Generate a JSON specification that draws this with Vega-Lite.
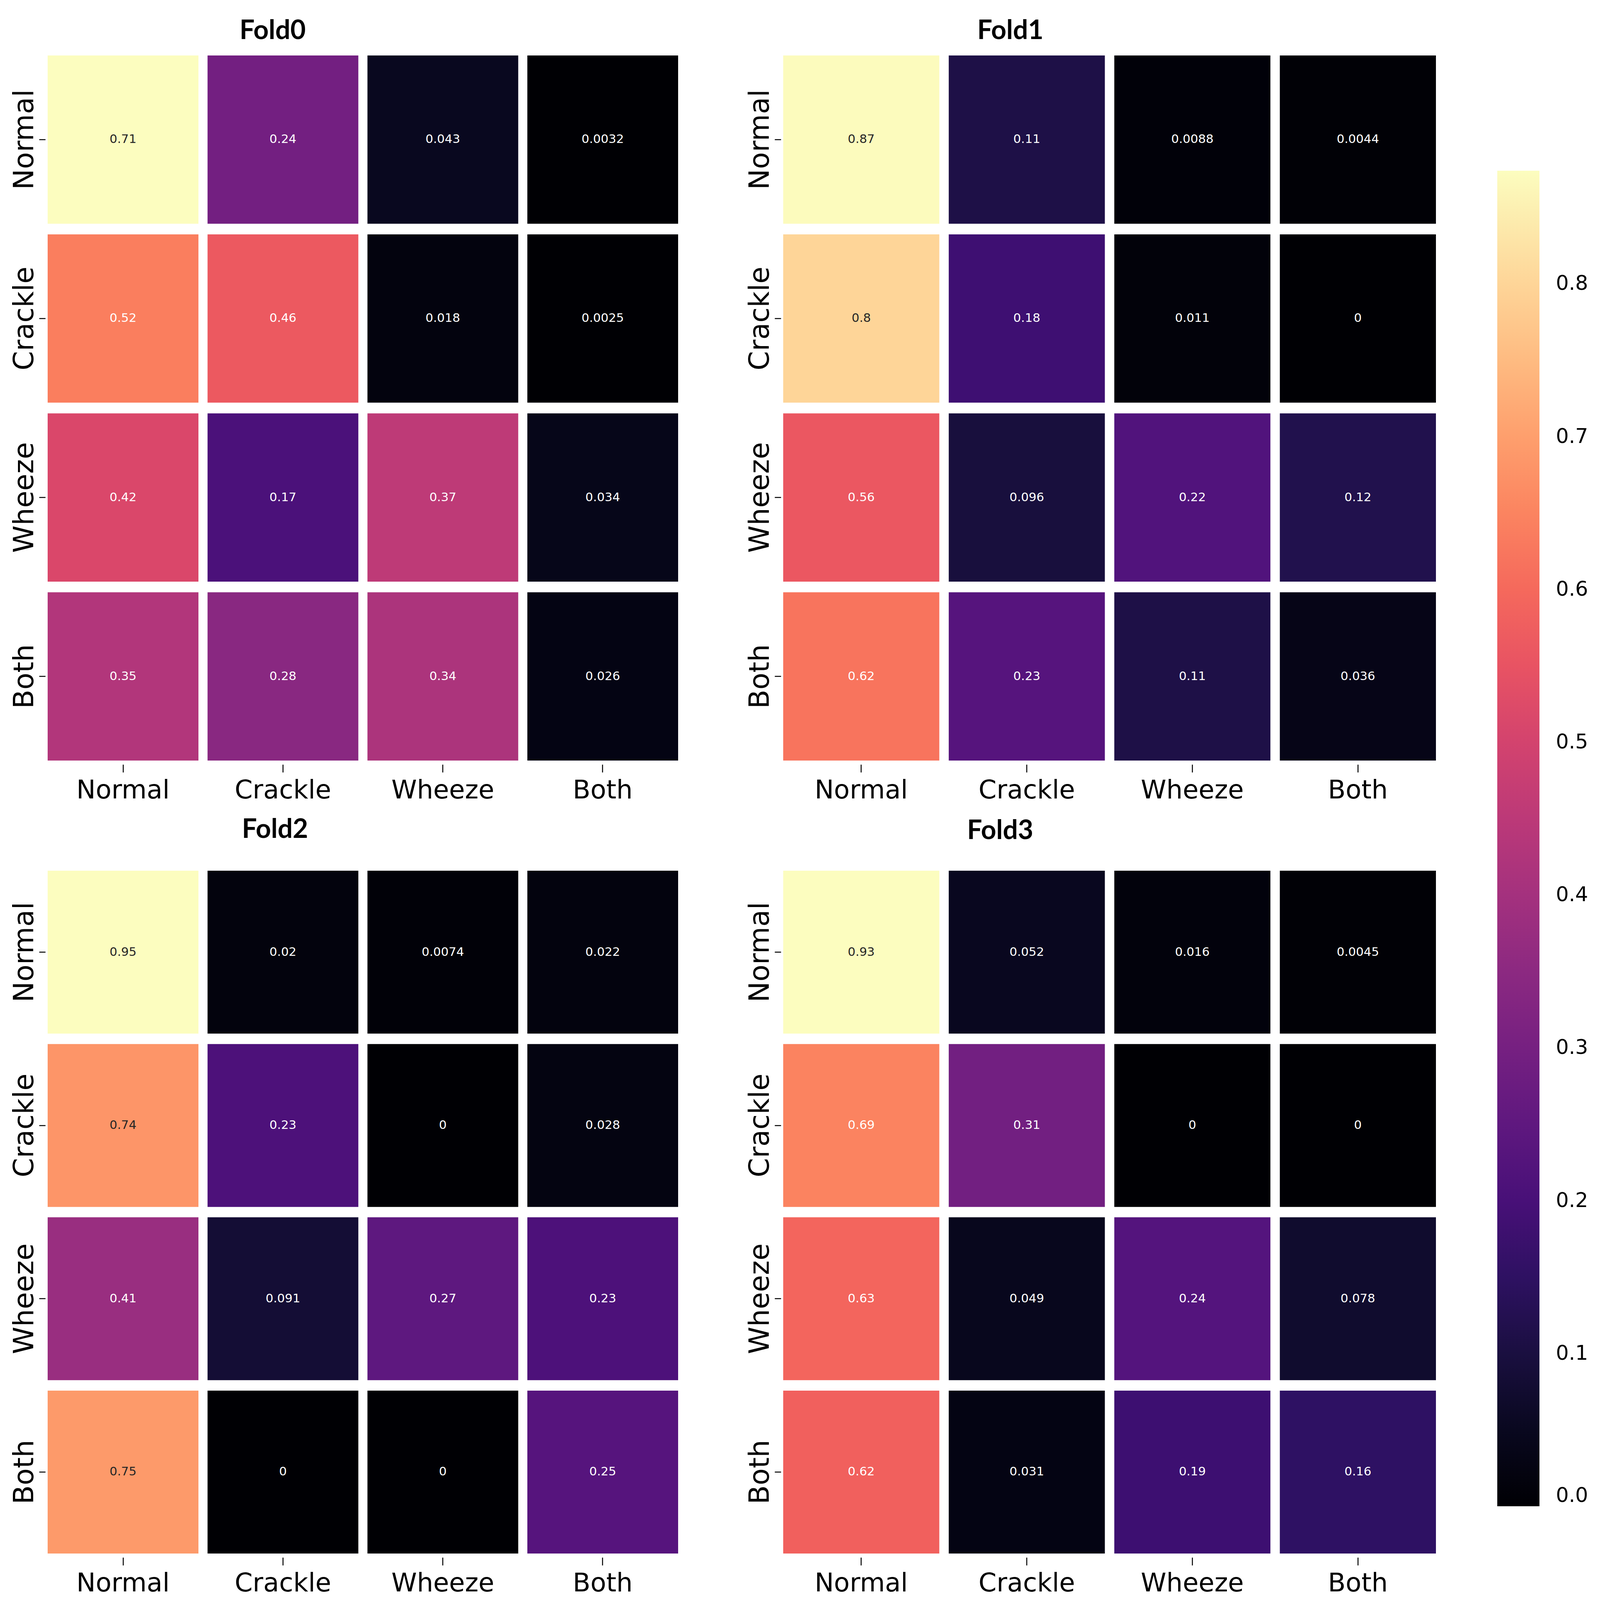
{
 "$schema": "https://vega.github.io/schema/vega-lite/v6.json",
 "background": "white",
 "padding": {"left": 26, "top": 46, "right": 5, "bottom": 5},
 "bounds": "flush",
 "columns": 2,
 "spacing": {"row": 282, "column": 269},
 "data": {"values": [
  {"fold": "Fold0", "actual": "Normal", "predicted": "Normal", "v": 0.71},
  {"fold": "Fold0", "actual": "Normal", "predicted": "Crackle", "v": 0.24},
  {"fold": "Fold0", "actual": "Normal", "predicted": "Wheeze", "v": 0.043},
  {"fold": "Fold0", "actual": "Normal", "predicted": "Both", "v": 0.0032},
  {"fold": "Fold0", "actual": "Crackle", "predicted": "Normal", "v": 0.52},
  {"fold": "Fold0", "actual": "Crackle", "predicted": "Crackle", "v": 0.46},
  {"fold": "Fold0", "actual": "Crackle", "predicted": "Wheeze", "v": 0.018},
  {"fold": "Fold0", "actual": "Crackle", "predicted": "Both", "v": 0.0025},
  {"fold": "Fold0", "actual": "Wheeze", "predicted": "Normal", "v": 0.42},
  {"fold": "Fold0", "actual": "Wheeze", "predicted": "Crackle", "v": 0.17},
  {"fold": "Fold0", "actual": "Wheeze", "predicted": "Wheeze", "v": 0.37},
  {"fold": "Fold0", "actual": "Wheeze", "predicted": "Both", "v": 0.034},
  {"fold": "Fold0", "actual": "Both", "predicted": "Normal", "v": 0.35},
  {"fold": "Fold0", "actual": "Both", "predicted": "Crackle", "v": 0.28},
  {"fold": "Fold0", "actual": "Both", "predicted": "Wheeze", "v": 0.34},
  {"fold": "Fold0", "actual": "Both", "predicted": "Both", "v": 0.026},
  {"fold": "Fold1", "actual": "Normal", "predicted": "Normal", "v": 0.87},
  {"fold": "Fold1", "actual": "Normal", "predicted": "Crackle", "v": 0.11},
  {"fold": "Fold1", "actual": "Normal", "predicted": "Wheeze", "v": 0.0088},
  {"fold": "Fold1", "actual": "Normal", "predicted": "Both", "v": 0.0044},
  {"fold": "Fold1", "actual": "Crackle", "predicted": "Normal", "v": 0.8},
  {"fold": "Fold1", "actual": "Crackle", "predicted": "Crackle", "v": 0.18},
  {"fold": "Fold1", "actual": "Crackle", "predicted": "Wheeze", "v": 0.011},
  {"fold": "Fold1", "actual": "Crackle", "predicted": "Both", "v": 0},
  {"fold": "Fold1", "actual": "Wheeze", "predicted": "Normal", "v": 0.56},
  {"fold": "Fold1", "actual": "Wheeze", "predicted": "Crackle", "v": 0.096},
  {"fold": "Fold1", "actual": "Wheeze", "predicted": "Wheeze", "v": 0.22},
  {"fold": "Fold1", "actual": "Wheeze", "predicted": "Both", "v": 0.12},
  {"fold": "Fold1", "actual": "Both", "predicted": "Normal", "v": 0.62},
  {"fold": "Fold1", "actual": "Both", "predicted": "Crackle", "v": 0.23},
  {"fold": "Fold1", "actual": "Both", "predicted": "Wheeze", "v": 0.11},
  {"fold": "Fold1", "actual": "Both", "predicted": "Both", "v": 0.036},
  {"fold": "Fold2", "actual": "Normal", "predicted": "Normal", "v": 0.95},
  {"fold": "Fold2", "actual": "Normal", "predicted": "Crackle", "v": 0.02},
  {"fold": "Fold2", "actual": "Normal", "predicted": "Wheeze", "v": 0.0074},
  {"fold": "Fold2", "actual": "Normal", "predicted": "Both", "v": 0.022},
  {"fold": "Fold2", "actual": "Crackle", "predicted": "Normal", "v": 0.74},
  {"fold": "Fold2", "actual": "Crackle", "predicted": "Crackle", "v": 0.23},
  {"fold": "Fold2", "actual": "Crackle", "predicted": "Wheeze", "v": 0},
  {"fold": "Fold2", "actual": "Crackle", "predicted": "Both", "v": 0.028},
  {"fold": "Fold2", "actual": "Wheeze", "predicted": "Normal", "v": 0.41},
  {"fold": "Fold2", "actual": "Wheeze", "predicted": "Crackle", "v": 0.091},
  {"fold": "Fold2", "actual": "Wheeze", "predicted": "Wheeze", "v": 0.27},
  {"fold": "Fold2", "actual": "Wheeze", "predicted": "Both", "v": 0.23},
  {"fold": "Fold2", "actual": "Both", "predicted": "Normal", "v": 0.75},
  {"fold": "Fold2", "actual": "Both", "predicted": "Crackle", "v": 0},
  {"fold": "Fold2", "actual": "Both", "predicted": "Wheeze", "v": 0},
  {"fold": "Fold2", "actual": "Both", "predicted": "Both", "v": 0.25},
  {"fold": "Fold3", "actual": "Normal", "predicted": "Normal", "v": 0.93},
  {"fold": "Fold3", "actual": "Normal", "predicted": "Crackle", "v": 0.052},
  {"fold": "Fold3", "actual": "Normal", "predicted": "Wheeze", "v": 0.016},
  {"fold": "Fold3", "actual": "Normal", "predicted": "Both", "v": 0.0045},
  {"fold": "Fold3", "actual": "Crackle", "predicted": "Normal", "v": 0.69},
  {"fold": "Fold3", "actual": "Crackle", "predicted": "Crackle", "v": 0.31},
  {"fold": "Fold3", "actual": "Crackle", "predicted": "Wheeze", "v": 0},
  {"fold": "Fold3", "actual": "Crackle", "predicted": "Both", "v": 0},
  {"fold": "Fold3", "actual": "Wheeze", "predicted": "Normal", "v": 0.63},
  {"fold": "Fold3", "actual": "Wheeze", "predicted": "Crackle", "v": 0.049},
  {"fold": "Fold3", "actual": "Wheeze", "predicted": "Wheeze", "v": 0.24},
  {"fold": "Fold3", "actual": "Wheeze", "predicted": "Both", "v": 0.078},
  {"fold": "Fold3", "actual": "Both", "predicted": "Normal", "v": 0.62},
  {"fold": "Fold3", "actual": "Both", "predicted": "Crackle", "v": 0.031},
  {"fold": "Fold3", "actual": "Both", "predicted": "Wheeze", "v": 0.19},
  {"fold": "Fold3", "actual": "Both", "predicted": "Both", "v": 0.16}
 ]},
 "config": {
  "view": {"stroke": null},
  "axis": {"domain": false, "grid": false, "ticks": true, "tickColor": "#000000", "tickWidth": 2.5, "labelFont": "DejaVu Sans", "labelFontSize": 66, "labelColor": "#000000", "labelLimit": 0, "title": null},
  "axisX": {"labelAngle": 0, "tickSize": 20, "offset": 10, "labelPadding": 14},
  "axisY": {"labelAngle": 270, "labelFontSize": 71, "tickSize": 16, "offset": 6, "labelPadding": 16, "labelAlign": "center", "labelBaseline": "alphabetic"},
  "title": {"font": "Lato", "fontWeight": "bold", "fontSize": 68, "color": "#000000", "anchor": "middle"}
 },
 "concat": [
  {
   "width": 1614, "height": 1805,
   "title": {"text": "Fold0", "dx": -231, "offset": 28},
   "transform": [{"filter": "datum.fold === 'Fold0'"}],
   "encoding": {
    "x": {"field": "predicted", "type": "nominal", "sort": ["Normal", "Crackle", "Wheeze", "Both"], "scale": {"paddingInner": 0.057, "paddingOuter": 0}},
    "y": {"field": "actual", "type": "nominal", "sort": ["Normal", "Crackle", "Wheeze", "Both"], "scale": {"paddingInner": 0.06, "paddingOuter": 0}}
   },
   "layer": [
    {"mark": {"type": "rect"}, "encoding": {"color": {"field": "v", "type": "quantitative", "scale": {"scheme": "magma", "domain": [0.0025, 0.71]}, "legend": null}}},
    {"mark": {"type": "text", "font": "DejaVu Sans", "fontSize": 31}, "encoding": {"text": {"field": "v", "type": "quantitative", "format": "~g"}, "color": {"condition": {"test": "datum.v > 0.6", "value": "#262626"}, "value": "#ffffff"}}}
   ]
  },
  {
   "width": 1671, "height": 1805,
   "title": {"text": "Fold1", "dx": -254, "offset": 28},
   "transform": [{"filter": "datum.fold === 'Fold1'"}],
   "encoding": {
    "x": {"field": "predicted", "type": "nominal", "sort": ["Normal", "Crackle", "Wheeze", "Both"], "scale": {"paddingInner": 0.057, "paddingOuter": 0}},
    "y": {"field": "actual", "type": "nominal", "sort": ["Normal", "Crackle", "Wheeze", "Both"], "scale": {"paddingInner": 0.06, "paddingOuter": 0}}
   },
   "layer": [
    {"mark": {"type": "rect"}, "encoding": {"color": {"field": "v", "type": "quantitative", "scale": {"scheme": "magma", "domain": [0, 0.874]}, "legend": {"orient": "none", "legendX": 1828, "legendY": 295, "title": null, "direction": "vertical", "gradientLength": 3419, "gradientThickness": 108, "gradientStrokeWidth": 0, "values": [0, 0.1, 0.2, 0.3, 0.4, 0.5, 0.6, 0.7, 0.8], "format": ".1f", "labelFont": "DejaVu Sans", "labelFontSize": 52, "labelColor": "#000000", "labelOffset": 42, "labelBaseline": "middle", "labelOverlap": false, "labelLimit": 0, "padding": 0}}}},
    {"mark": {"type": "text", "font": "DejaVu Sans", "fontSize": 31}, "encoding": {"text": {"field": "v", "type": "quantitative", "format": "~g"}, "color": {"condition": {"test": "datum.v > 0.7", "value": "#262626"}, "value": "#ffffff"}}}
   ]
  },
  {
   "width": 1614, "height": 1748,
   "title": {"text": "Fold2", "dx": -225, "offset": 70},
   "transform": [{"filter": "datum.fold === 'Fold2'"}],
   "encoding": {
    "x": {"field": "predicted", "type": "nominal", "sort": ["Normal", "Crackle", "Wheeze", "Both"], "scale": {"paddingInner": 0.057, "paddingOuter": 0}},
    "y": {"field": "actual", "type": "nominal", "sort": ["Normal", "Crackle", "Wheeze", "Both"], "scale": {"paddingInner": 0.06, "paddingOuter": 0}}
   },
   "layer": [
    {"mark": {"type": "rect"}, "encoding": {"color": {"field": "v", "type": "quantitative", "scale": {"scheme": "magma", "domain": [0, 0.95]}, "legend": null}}},
    {"mark": {"type": "text", "font": "DejaVu Sans", "fontSize": 31}, "encoding": {"text": {"field": "v", "type": "quantitative", "format": "~g"}, "color": {"condition": {"test": "datum.v > 0.7", "value": "#262626"}, "value": "#ffffff"}}}
   ]
  },
  {
   "width": 1671, "height": 1748,
   "title": {"text": "Fold3", "dx": -280, "offset": 67},
   "transform": [{"filter": "datum.fold === 'Fold3'"}],
   "encoding": {
    "x": {"field": "predicted", "type": "nominal", "sort": ["Normal", "Crackle", "Wheeze", "Both"], "scale": {"paddingInner": 0.057, "paddingOuter": 0}},
    "y": {"field": "actual", "type": "nominal", "sort": ["Normal", "Crackle", "Wheeze", "Both"], "scale": {"paddingInner": 0.06, "paddingOuter": 0}}
   },
   "layer": [
    {"mark": {"type": "rect"}, "encoding": {"color": {"field": "v", "type": "quantitative", "scale": {"scheme": "magma", "domain": [0, 0.93]}, "legend": null}}},
    {"mark": {"type": "text", "font": "DejaVu Sans", "fontSize": 31}, "encoding": {"text": {"field": "v", "type": "quantitative", "format": "~g"}, "color": {"condition": {"test": "datum.v > 0.7", "value": "#262626"}, "value": "#ffffff"}}}
   ]
  }
 ],
 "resolve": {"scale": {"color": "independent"}}
}
